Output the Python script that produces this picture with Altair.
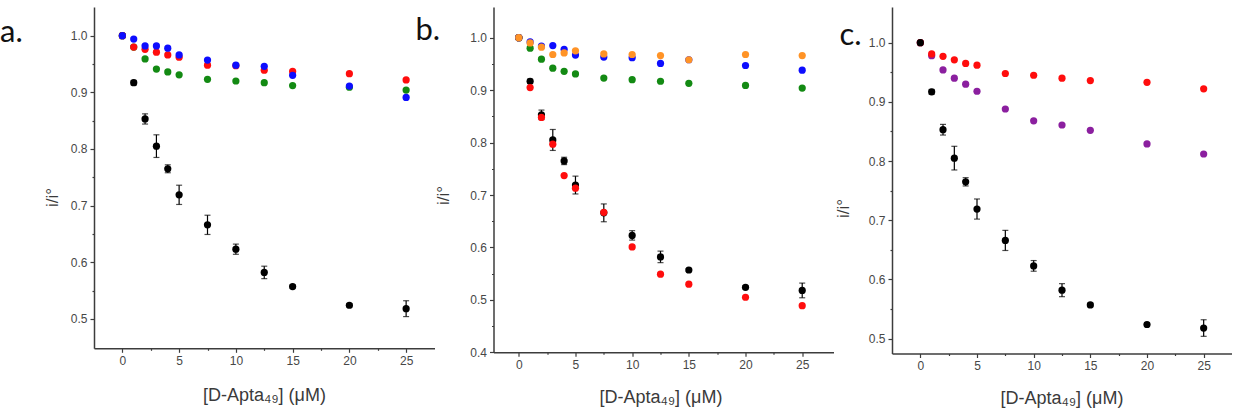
import altair as alt
import pandas as pd

# Aptamer concentration (µM) shared by every series
conc = [0, 1, 2, 3, 4, 5, 7.5, 10, 12.5, 15, 20, 25]

# Reference series (black, with error bars) repeated in all three panels
black_y = [1.0, 0.917, 0.853, 0.805, 0.765, 0.719, 0.666, 0.623, 0.582, 0.557, 0.524, 0.518]
black_err = [0.0, 0.004, 0.009, 0.020, 0.007, 0.017, 0.017, 0.009, 0.011, 0.003, 0.003, 0.014]

# Panel a
a_green = [1.0, 0.980, 0.959, 0.941, 0.936, 0.931, 0.923, 0.920, 0.917, 0.912, 0.909, 0.904]
a_red = [1.0, 0.980, 0.976, 0.971, 0.966, 0.962, 0.948, 0.947, 0.939, 0.937, 0.933, 0.922]
a_blue = [1.0, 0.994, 0.982, 0.982, 0.978, 0.966, 0.957, 0.948, 0.946, 0.930, 0.911, 0.891]

# Panel b
b_red = [1.0, 0.905, 0.848, 0.797, 0.737, 0.713, 0.667, 0.601, 0.549, 0.530, 0.505, 0.489]
b_green = [1.0, 0.980, 0.959, 0.942, 0.936, 0.931, 0.923, 0.920, 0.917, 0.913, 0.909, 0.904]
b_blue = [1.0, 0.992, 0.984, 0.985, 0.978, 0.967, 0.963, 0.962, 0.951, 0.958, 0.947, 0.938]
b_orange = [1.0, 0.990, 0.982, 0.968, 0.971, 0.975, 0.969, 0.968, 0.966, 0.958, 0.968, 0.966]

# Panel c
c_purple = [1.0, 0.978, 0.954, 0.940, 0.930, 0.918, 0.888, 0.868, 0.861, 0.852, 0.829, 0.812]
c_red = [1.0, 0.981, 0.977, 0.971, 0.965, 0.962, 0.948, 0.945, 0.940, 0.936, 0.933, 0.922]

# Axis tick positions (major every 5 / 0.1, minor in between)
x_ticks = [0, 2.5, 5, 7.5, 10, 12.5, 15, 17.5, 20, 22.5, 25]
y_ticks_a = [0.5, 0.55, 0.6, 0.65, 0.7, 0.75, 0.8, 0.85, 0.9, 0.95, 1.0]
y_ticks_b = [0.4, 0.45, 0.5, 0.55, 0.6, 0.65, 0.7, 0.75, 0.8, 0.85, 0.9, 0.95, 1.0]
y_ticks_c = [0.5, 0.55, 0.6, 0.65, 0.7, 0.75, 0.8, 0.85, 0.9, 0.95, 1.0]

RED, BLUE, GREEN = "#ff0d0d", "#0d0dff", "#138a13"
ORANGE, PURPLE, BLACK = "#ff9326", "#8b1f9f", "#000000"

FONT = "Liberation Sans"
MAJOR_X = "datum.value % 5 === 0"
MAJOR_Y = "abs(datum.value * 10 - round(datum.value * 10)) < 0.001"
X_TITLE = "[D-Apta\u2084\u2089] (\u03bcM)"


def x_enc(domain, title_x, title_y):
    return alt.X(
        "x:Q",
        scale=alt.Scale(domain=domain, nice=False, zero=False),
        axis=alt.Axis(
            values=x_ticks,
            labelExpr=f"{MAJOR_X} ? datum.label : ''",
            tickSize={"condition": {"test": MAJOR_X, "value": 4}, "value": 2},
            title=X_TITLE,
            titleX=title_x,
            titleY=title_y,
            titleAlign="center",
            titleBaseline="alphabetic",
            titleFontSize=18,
        ),
    )


def y_enc(field, domain, ticks, title_x, title_y):
    return alt.Y(
        field,
        scale=alt.Scale(domain=domain, nice=False, zero=False),
        axis=alt.Axis(
            values=ticks,
            labelExpr=f"{MAJOR_Y} ? format(datum.value, '.1f') : ''",
            tickSize={"condition": {"test": MAJOR_Y, "value": 4}, "value": 2},
            title="i/i\u00b0",
            titleX=title_x,
            titleY=title_y,
            titleAngle=-90,
            titleAlign="center",
            titleBaseline="middle",
            titleFontSize=17,
        ),
    )


def panel(letter, letter_pos, series, xdom, ydom, yticks, width, height,
          xtitle_pos, ytitle_pos):
    X = x_enc(xdom, *xtitle_pos)
    layers = []
    for vals, color in series:
        df = pd.DataFrame({"x": conc, "y": vals})
        if color == BLACK:
            err = pd.DataFrame({
                "x": conc,
                "lo": [v - e for v, e in zip(black_y, black_err)],
                "hi": [v + e for v, e in zip(black_y, black_err)],
            })
            err = err[[e > 0 for e in black_err]]
            base = alt.Chart(err)
            layers.append(base.mark_rule(color=BLACK, strokeWidth=1.2).encode(
                x=X, y=y_enc("lo:Q", ydom, yticks, *ytitle_pos), y2="hi:Q"))
            for f in ("lo:Q", "hi:Q"):
                layers.append(base.mark_tick(color=BLACK, orient="horizontal",
                                             size=6, thickness=1.2).encode(
                    x=X, y=y_enc(f, ydom, yticks, *ytitle_pos)))
        layers.append(alt.Chart(df).mark_circle(size=52, opacity=1, color=color).encode(
            x=X, y=y_enc("y:Q", ydom, yticks, *ytitle_pos)))
    lab = alt.Chart(pd.DataFrame({"t": [letter]})).mark_text(
        align="left", baseline="alphabetic", font="Lato", fontSize=31, color="#111111"
    ).encode(x=alt.value(letter_pos[0]), y=alt.value(letter_pos[1]), text="t:N")
    layers.append(lab)
    return alt.layer(*layers).properties(width=width, height=height)


pa = panel("a.", (-94, 34.7),
           [(black_y, BLACK), (a_green, GREEN), (a_red, RED), (a_blue, BLUE)],
           [-2.5, 27.5], [0.448, 1.0507], y_ticks_a, 340.5, 341.3,
           (170, 52), (-42, 190))
pb = panel("b.", (-78, 33),
           [(black_y, BLACK), (b_red, RED), (b_green, GREEN), (b_blue, BLUE), (b_orange, ORANGE)],
           [-2.23, 27.76], [0.4, 1.0586], y_ticks_b, 340, 345.3,
           (167, 50), (-50, 188))
pc = panel("c.", (-52.5, 38),
           [(c_purple, PURPLE), (c_red, RED), (black_y, BLACK)],
           [-2.5, 27.5], [0.475, 1.0603], y_ticks_c, 340, 346.5,
           (169.5, 50), (-48.5, 201))

chart = alt.hconcat(pa, pb, pc, spacing=58.5, bounds="flush").properties(
    padding={"left": 0, "top": 7, "right": 0, "bottom": 0},
    background="white",
).configure_view(stroke=None).configure_axis(
    grid=False,
    domainColor="#3c3c3c",
    domainWidth=1.5,
    tickColor="#3c3c3c",
    tickWidth=1.2,
    labelFont=FONT,
    labelFontSize=12,
    labelColor="#474747",
    labelPadding=3,
    titleFont=FONT,
    titleFontWeight="normal",
    titleColor="#3a3a3a",
)

chart.save("out.html", embed_options={"renderer": "svg", "actions": False})
